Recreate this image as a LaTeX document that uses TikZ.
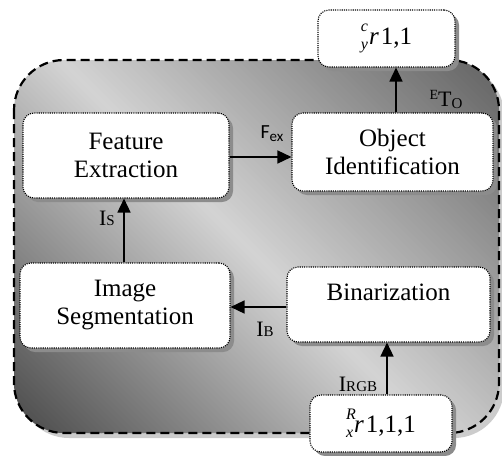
\documentclass[tikz,border=0pt]{standalone}
\usepackage{fontspec}
\setmainfont{Liberation Serif}
\newfontfamily\calib{Carlito}
\usetikzlibrary{arrows.meta,shadows}
% left super- and subscript set in front of a symbol
\newcommand\prescr[2]{{\fontsize{16}{16}\selectfont\rlap{\raisebox{13.5pt}{\textit{#1}}}\raisebox{-5pt}{\textit{#2}}}\kern1pt}
\begin{document}
\begin{tikzpicture}[x=1pt,y=-1pt,
  stage/.style={draw=black, line width=1.1pt, dash pattern=on 1.1pt off 1.1pt,
    fill=white, rounded corners=11pt, align=center, inner sep=0pt,
    font=\fontsize{25}{28}\selectfont,
    drop shadow={shadow xshift=4pt, shadow yshift=-4pt, fill=black!45, opacity=1}},
  flow/.style={line width=1.5pt, -{Triangle[width=13pt,length=14pt]}},
  tag/.style={font=\fontsize{22}{24}\selectfont, inner sep=0pt}]
\useasboundingbox (0,0) rectangle (502,455);

% soft shadow under the frame
\fill[black!20, rounded corners=50pt] (19,65) rectangle (504,438);
% diagonal gradient inside the frame: dark towards the lower-left and
% upper-right corners, light along the middle
\begin{scope}
  \clip[rounded corners=50pt] (14,60) rectangle (499,433);
  \foreach \t in {-440,-434,...,446}{
    \pgfmathsetmacro\p{(\t+3)<0 ? 17+(-(\t+3))/420*55 : 17+(\t+3)/440*45}
    \fill[black!\p] (\t-100,-100) -- (\t-93,-100) -- (\t+607,600) -- (\t+600,600) -- cycle;
  }
\end{scope}
\draw[black, line width=2.2pt, dash pattern=on 9pt off 5pt, rounded corners=50pt]
  (14,60) rectangle (499,433);

% stages
\node[stage, minimum width=137pt, minimum height=57pt] (out) at (386.5,38.5) {\prescr{c}{y}\textit{r}\kern2pt1,1};
\node[stage, minimum width=206pt, minimum height=85pt] (fe) at (126,155.5) {Feature\\Extraction};
\node[stage, minimum width=201pt, minimum height=78pt] (oi) at (392.5,152) {Object\\Identification};
\node[stage, minimum width=210pt, minimum height=85pt] (seg) at (125,305.5) {Image\\Segmentation};
\node[stage, minimum width=203pt, minimum height=75pt, text height=8pt, text depth=16pt] (bin) at (388.5,304.5) {Binarization};
\node[stage, minimum width=142pt, minimum height=57pt] (in) at (381,423.5) {\prescr{R}{x}\textit{r}\kern2pt1,1,1};

% data flow
\draw[flow] (in.north -| 387,0) -- (bin.south -| 387,0);
\draw[flow] (bin.west |- 0,307) -- (seg.east |- 0,307);
\draw[flow] (seg.north -| 124,0) -- (fe.south -| 124,0);
\draw[flow] (fe.east |- 0,157) -- (oi.west |- 0,157);
\draw[flow] (oi.north -| 396,0) -- (out.south -| 396,0);

% signal labels
\node[tag] (lrgb) at (358,384) {I{\fontsize{15}{15}\selectfont RGB}};
\node[tag] (lb) at (265,329) {I{\fontsize{15}{15}\selectfont B}};
\node[tag] (ls) at (107,218) {I{\fontsize{15}{15}\selectfont S}};
\node[tag, font=\calib\fontsize{20}{22}\selectfont] (lf) at (272,134) {F\raisebox{-3pt}{\fontsize{15}{15}\selectfont ex}};
\node[tag] (lt) at (446,99) {\raisebox{7pt}{\fontsize{14}{14}\selectfont E}T\raisebox{-2pt}{\fontsize{15}{15}\selectfont O}};
\end{tikzpicture}
\end{document}
